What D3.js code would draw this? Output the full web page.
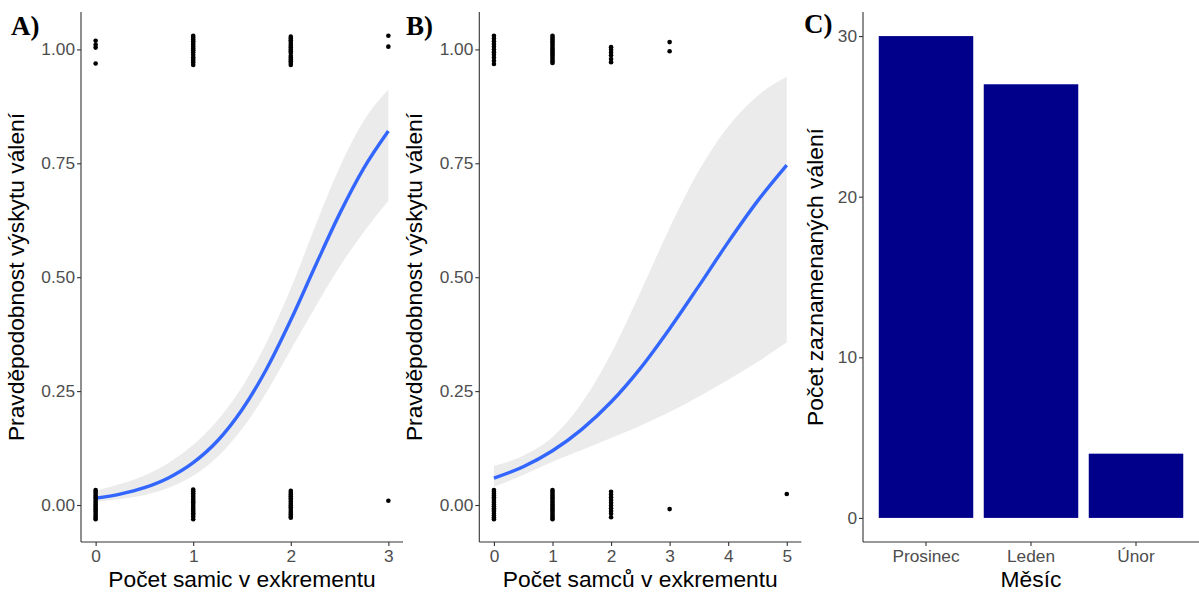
<!DOCTYPE html>
<html><head><meta charset="utf-8">
<script src="https://cdn.jsdelivr.net/npm/d3@7"></script>
<style>html,body{margin:0;padding:0;background:#fff;} svg{display:block;}</style>
</head><body>
<script>
// ---- Panel A data: females in excrement ----
const femaleX = [0, 1, 2, 3];
const femaleRolled = [
  [1.019, 1.010, 1.004, 0.969],
  [1.030, 1.026, 1.022, 1.018, 1.014, 1.010, 1.006, 1.002, 0.998, 0.994, 0.988, 0.983, 0.979, 0.975, 0.971, 0.966],
  [1.028, 1.024, 1.020, 1.016, 1.012, 1.008, 1.004, 1.000, 0.996, 0.992, 0.986, 0.982, 0.978, 0.974, 0.970, 0.966],
  [1.030, 1.006]
];
const femaleNot = [
  [0.033, 0.029, 0.025, 0.021, 0.017, 0.013, 0.009, 0.005, 0.001, -0.003, -0.007, -0.011, -0.015, -0.019, -0.023, -0.027, -0.031],
  [0.034, 0.030, 0.026, 0.022, 0.018, 0.014, 0.010, 0.006, 0.002, -0.002, -0.006, -0.010, -0.014, -0.018, -0.022, -0.026, -0.031],
  [0.031, 0.027, 0.023, 0.019, 0.015, 0.011, 0.007, 0.003, -0.001, -0.005, -0.009, -0.013, -0.017, -0.021, -0.025, -0.028],
  [0.0095]
];
const fitAx = [0, 0.25, 0.5, 0.75, 1, 1.25, 1.5, 1.75, 2, 2.25, 2.5, 2.75, 3];
const fitA  = [0.015, 0.024, 0.038, 0.060, 0.093, 0.141, 0.209, 0.298, 0.406, 0.524, 0.639, 0.740, 0.821];
const loA   = [0.007, 0.013, 0.022, 0.038, 0.064, 0.106, 0.167, 0.247, 0.341, 0.434, 0.523, 0.600, 0.668];
const hiA   = [0.031, 0.046, 0.065, 0.093, 0.132, 0.186, 0.259, 0.356, 0.475, 0.612, 0.741, 0.844, 0.912];

// ---- Panel B data: males in excrement ----
const maleX = [0, 1, 2, 3, 4, 5];
const maleRolled = [
  [1.030, 1.024, 1.018, 1.012, 1.006, 1.000, 0.994, 0.988, 0.982, 0.975, 0.968],
  [1.030, 1.026, 1.022, 1.018, 1.014, 1.010, 1.006, 1.002, 0.998, 0.994, 0.990, 0.986, 0.982, 0.978, 0.974, 0.970],
  [1.005, 0.999, 0.993, 0.987, 0.979, 0.972],
  [1.016, 0.996],
  [],
  []
];
const maleNot = [
  [0.033, 0.029, 0.025, 0.021, 0.017, 0.013, 0.009, 0.005, 0.001, -0.003, -0.007, -0.011, -0.015, -0.019, -0.023, -0.027, -0.031],
  [0.033, 0.029, 0.025, 0.021, 0.017, 0.013, 0.009, 0.005, 0.001, -0.003, -0.007, -0.011, -0.015, -0.019, -0.023, -0.027, -0.031],
  [0.029, 0.023, 0.017, 0.011, 0.005, -0.001, -0.007, -0.013, -0.019, -0.027],
  [-0.009],
  [],
  [0.024]
];
const fitBx = [0, 0.5, 1, 1.5, 2, 2.5, 3, 3.5, 4, 4.5, 5];
const fitB  = [0.059, 0.084, 0.119, 0.166, 0.226, 0.300, 0.387, 0.481, 0.577, 0.667, 0.746];
const loB   = [0.040, 0.066, 0.095, 0.121, 0.147, 0.174, 0.204, 0.238, 0.275, 0.314, 0.357];
const hiB   = [0.086, 0.108, 0.149, 0.224, 0.332, 0.467, 0.608, 0.734, 0.831, 0.898, 0.940];

// ---- Panel C data ----
const months = ["Prosinec", "Leden", "Únor"];
const monthCounts = [30, 27, 4];

const probTicks = [0, 0.25, 0.5, 0.75, 1];
const probTickLabels = ["0.00", "0.25", "0.50", "0.75", "1.00"];
const countTicks = [0, 10, 20, 30];

const W = 1199, H = 592;
const SANS = "'Liberation Sans', Arial, sans-serif";
const SERIF = "'Liberation Serif', 'Times New Roman', serif";
const TICKC = "#4D4D4D", AXC = "#333333";
const TICK_FS = 17.3, TITLE_FS = 22.8;
const plotTop = 12, plotBottom = 542;

const svg = d3.select("body").append("svg").attr("width", W).attr("height", H)
  .style("font-family", SANS);

function drawAxes(g, x, y, xTicks, xLabels, yTicks, yLabels, left, right) {
  const ya = g.append("g").attr("transform", `translate(${left},0)`)
    .call(d3.axisLeft(y).tickValues(yTicks).tickFormat((d, i) => yLabels[i]).tickSize(4).tickPadding(2));
  ya.select(".domain").attr("d", `M0,${plotTop}V${plotBottom}`).attr("stroke", AXC).attr("stroke-width", 1.1);
  ya.selectAll(".tick line").attr("stroke", AXC).attr("stroke-width", 1.1);
  ya.selectAll(".tick text").attr("fill", TICKC).style("font-size", TICK_FS + "px").style("font-family", SANS);
  const xa = g.append("g").attr("transform", `translate(0,${plotBottom})`)
    .call(d3.axisBottom(x).tickValues(xTicks).tickFormat((d, i) => xLabels[i]).tickSize(4).tickPadding(3.5));
  xa.select(".domain").attr("d", `M${left},0H${right}`).attr("stroke", AXC).attr("stroke-width", 1.1);
  xa.selectAll(".tick line").attr("stroke", AXC).attr("stroke-width", 1.1);
  xa.selectAll(".tick text").attr("fill", TICKC).style("font-size", TICK_FS + "px").style("font-family", SANS);
}

function probPanel(opt) {
  const g = svg.append("g");
  const x = d3.scaleLinear().domain(opt.xDomain).range([opt.left, opt.right]);
  const y = d3.scaleLinear().domain([-0.0812, 1.0821]).range([plotBottom, plotTop]);
  const bandData = opt.fx.map((v, i) => ({x: v, lo: opt.lo[i], hi: opt.hi[i], f: opt.fit[i]}));
  g.append("path").datum(bandData)
    .attr("d", d3.area().x(d => x(d.x)).y0(d => y(d.lo)).y1(d => y(d.hi)).curve(d3.curveMonotoneX))
    .attr("fill", "#EBEBEB");
  g.append("path").datum(bandData)
    .attr("d", d3.line().x(d => x(d.x)).y(d => y(d.f)).curve(d3.curveMonotoneX))
    .attr("fill", "none").attr("stroke", "#3366FF").attr("stroke-width", 3.4);
  const pts = [];
  opt.px.forEach((xv, i) => {
    opt.rolled[i].forEach(v => pts.push([xv, v]));
    opt.not[i].forEach(v => pts.push([xv, v]));
  });
  g.selectAll("circle.p").data(pts).join("circle")
    .attr("cx", d => x(d[0])).attr("cy", d => y(d[1])).attr("r", 2.3).attr("fill", "#000");
  drawAxes(g, x, y, opt.px, opt.px.map(String), probTicks, probTickLabels, opt.left, opt.right);
  g.append("text").attr("transform", `translate(${opt.left - 57.5},${(plotTop + plotBottom) / 2}) rotate(-90)`)
    .attr("text-anchor", "middle").style("font-size", TITLE_FS + "px").attr("fill", "#000")
    .text("Pravděpodobnost výskytu válení");
  g.append("text").attr("x", (opt.left + opt.right) / 2).attr("y", 587)
    .attr("text-anchor", "middle").style("font-size", TITLE_FS + "px").attr("fill", "#000")
    .text(opt.xTitle);
  g.append("text").attr("x", opt.labX).attr("y", 35).style("font-family", SERIF)
    .style("font-weight", "bold").style("font-size", "27px").attr("fill", "#000").text(opt.tag);
}

probPanel({left: 81, right: 403, xDomain: [-0.15, 3.15], px: femaleX, rolled: femaleRolled, not: femaleNot,
  fx: fitAx, fit: fitA, lo: loA, hi: hiA, xTitle: "Počet samic v exkrementu", tag: "A)", labX: 11});
probPanel({left: 479.3, right: 801.4, xDomain: [-0.25, 5.25], px: maleX, rolled: maleRolled, not: maleNot,
  fx: fitBx, fit: fitB, lo: loB, hi: hiB, xTitle: "Počet samců v exkrementu", tag: "B)", labX: 406});

// ---- Panel C ----
(function () {
  const left = 863, right = 1199;
  const g = svg.append("g");
  const x = d3.scaleBand().domain(months).range([left, right]).paddingInner(0.1).paddingOuter(0.15);
  const y = d3.scaleLinear().domain([-1.5, 31.5]).range([plotBottom, plotTop]);
  g.selectAll("rect").data(months).join("rect")
    .attr("x", d => x(d)).attr("width", x.bandwidth())
    .attr("y", (d, i) => y(monthCounts[i])).attr("height", (d, i) => y(0) - y(monthCounts[i]))
    .attr("fill", "#00008B");
  const ya = g.append("g").attr("transform", `translate(${left},0)`)
    .call(d3.axisLeft(y).tickValues(countTicks).tickSize(4).tickPadding(2));
  ya.select(".domain").attr("d", `M0,${plotTop}V${plotBottom}`).attr("stroke", AXC).attr("stroke-width", 1.1);
  ya.selectAll(".tick line").attr("stroke", AXC).attr("stroke-width", 1.1);
  ya.selectAll(".tick text").attr("fill", TICKC).style("font-size", TICK_FS + "px").style("font-family", SANS);
  const xa = g.append("g").attr("transform", `translate(0,${plotBottom})`)
    .call(d3.axisBottom(x).tickSize(4).tickPadding(3.5));
  xa.select(".domain").attr("d", `M${left},0H${right}`).attr("stroke", AXC).attr("stroke-width", 1.1);
  xa.selectAll(".tick line").attr("stroke", AXC).attr("stroke-width", 1.1);
  xa.selectAll(".tick text").attr("fill", TICKC).style("font-size", TICK_FS + "px").style("font-family", SANS);
  g.append("text").attr("transform", `translate(${left - 40},${(plotTop + plotBottom) / 2}) rotate(-90)`)
    .attr("text-anchor", "middle").style("font-size", TITLE_FS + "px").attr("fill", "#000")
    .text("Počet zaznamenaných válení");
  g.append("text").attr("x", (left + right) / 2).attr("y", 587)
    .attr("text-anchor", "middle").style("font-size", TITLE_FS + "px").attr("fill", "#000").text("Měsíc");
  g.append("text").attr("x", 804).attr("y", 33).style("font-family", SERIF)
    .style("font-weight", "bold").style("font-size", "27px").attr("fill", "#000").text("C)");
})();
</script>
</body></html>
